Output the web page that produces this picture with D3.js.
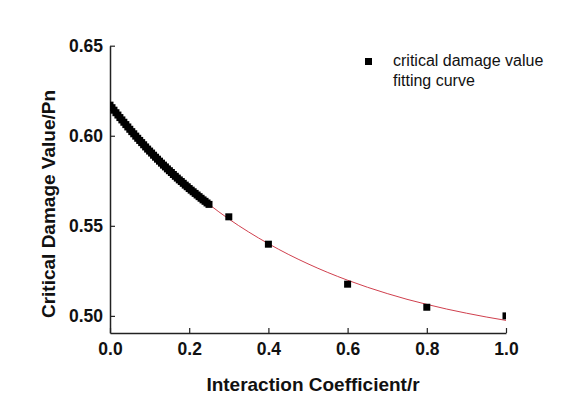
<!DOCTYPE html>
<html>
<head>
<meta charset="utf-8">
<script src="https://cdn.jsdelivr.net/npm/d3@7"></script>
<style>
  body { margin: 0; background: #fff; }
  svg { display: block; font-family: "Liberation Sans", Arial, sans-serif; }
</style>
</head>
<body>
<div id="main"></div>
<script>
// measured points (dense run 0..0.25 plus sparse points)
const damageX = [0.000, 0.005, 0.010, 0.015, 0.020, 0.025, 0.030, 0.035, 0.040, 0.045,
  0.050, 0.055, 0.060, 0.065, 0.070, 0.075, 0.080, 0.085, 0.090, 0.095,
  0.100, 0.105, 0.110, 0.115, 0.120, 0.125, 0.130, 0.135, 0.140, 0.145,
  0.150, 0.155, 0.160, 0.165, 0.170, 0.175, 0.180, 0.185, 0.190, 0.195,
  0.200, 0.205, 0.210, 0.215, 0.220, 0.225, 0.230, 0.235, 0.240, 0.245,
  0.250, 0.30, 0.40, 0.60, 0.80, 1.00];
const damageY = [0.6170, 0.6156, 0.6142, 0.6128, 0.6115, 0.6101, 0.6088, 0.6075, 0.6062, 0.6049,
  0.6036, 0.6023, 0.6011, 0.5998, 0.5986, 0.5974, 0.5962, 0.5950, 0.5938, 0.5926,
  0.5915, 0.5904, 0.5892, 0.5881, 0.5870, 0.5859, 0.5848, 0.5837, 0.5827, 0.5816,
  0.5806, 0.5796, 0.5785, 0.5775, 0.5765, 0.5755, 0.5746, 0.5736, 0.5726, 0.5717,
  0.5707, 0.5698, 0.5689, 0.5680, 0.5671, 0.5662, 0.5653, 0.5644, 0.5636, 0.5627,
  0.5619, 0.5550, 0.5398, 0.5176, 0.5048, 0.5000];

// fitting curve
const fitX = [0.00, 0.05, 0.10, 0.15, 0.20, 0.25, 0.30, 0.35, 0.40, 0.45, 0.50,
  0.55, 0.60, 0.65, 0.70, 0.75, 0.80, 0.85, 0.90, 0.95, 1.00];
const fitY = [0.6170, 0.6036, 0.5915, 0.5806, 0.5707, 0.5619, 0.5538, 0.5466, 0.5401, 0.5342, 0.5289,
  0.5241, 0.5198, 0.5159, 0.5124, 0.5092, 0.5064, 0.5038, 0.5015, 0.4994, 0.4975];

const xTicks = [0.0, 0.2, 0.4, 0.6, 0.8, 1.0];
const yTicks = [0.50, 0.55, 0.60, 0.65];
const legendLabels = ['critical damage value', 'fitting curve'];

const width = 581;
const height = 394;

const svg = d3.select('#main').append('svg')
  .attr('width', width)
  .attr('height', height);

svg.append('rect').attr('width', width).attr('height', height).attr('fill', '#fff');

const x = d3.scaleLinear().domain([0, 1]).range([110, 506]);
const y = d3.scaleLinear().domain([0.4905, 0.65]).range([333, 45.7]);

svg.append('defs').append('clipPath').attr('id', 'plot')
  .append('rect')
  .attr('x', x(0)).attr('y', y(0.65))
  .attr('width', x(1) - x(0)).attr('height', y(0.4905) - y(0.65));

// axes
const xAxis = svg.append('g')
  .attr('transform', `translate(0, ${y(0.4905)})`)
  .call(d3.axisBottom(x).tickValues(xTicks).tickFormat(d3.format('.1f')).tickSizeInner(-5).tickSizeOuter(0).tickPadding(10));
const yAxis = svg.append('g')
  .attr('transform', `translate(${x(0)}, 0)`)
  .call(d3.axisLeft(y).tickValues(yTicks).tickFormat(d3.format('.2f')).tickSizeInner(-5).tickSizeOuter(0).tickPadding(7));

[xAxis, yAxis].forEach(g => {
  g.select('.domain').attr('stroke', '#222').attr('stroke-width', 1.5);
  g.selectAll('.tick line').attr('stroke', '#222').attr('stroke-width', 1.2);
  g.selectAll('.tick text')
    .attr('fill', '#111')
    .style('font-size', '17.5px')
    .style('font-weight', 'bold');
});

svg.append('text')
  .attr('x', 313).attr('y', 391)
  .attr('text-anchor', 'middle')
  .style('font-size', '19px').style('font-weight', 'bold')
  .attr('fill', '#111')
  .text('Interaction Coefficient/r');

svg.append('text')
  .attr('transform', 'translate(55, 204) rotate(-90)')
  .attr('text-anchor', 'middle')
  .style('font-size', '19px').style('font-weight', 'bold')
  .attr('fill', '#111')
  .text('Critical Damage Value/Pn');

// data
const plot = svg.append('g').attr('clip-path', 'url(#plot)');

const pts = damageX.map((d, i) => ({ x: d, y: damageY[i] }));
const fit = fitX.map((d, i) => ({ x: d, y: fitY[i] }));

const lineGenerator = d3.line()
  .x(d => x(d.x))
  .y(d => y(d.y))
  .curve(d3.curveMonotoneX);

plot.append('path')
  .datum(fit)
  .attr('fill', 'none')
  .attr('stroke', '#d0404e')
  .attr('stroke-width', 1)
  .attr('d', lineGenerator);

const ms = 7;
plot.selectAll('rect.pt')
  .data(pts)
  .enter()
  .append('rect')
  .attr('class', 'pt')
  .attr('x', d => x(d.x) - ms / 2)
  .attr('y', d => y(d.y) - ms / 2)
  .attr('width', ms)
  .attr('height', ms)
  .attr('fill', '#000');

// legend
const legend = svg.append('g');
legend.append('rect')
  .attr('x', 365).attr('y', 58)
  .attr('width', 7).attr('height', 7)
  .attr('fill', '#000');
legend.selectAll('text')
  .data(legendLabels)
  .enter()
  .append('text')
  .attr('x', 393)
  .attr('y', (d, i) => 66 + i * 20)
  .style('font-size', '16px')
  .attr('fill', '#111')
  .text(d => d);
</script>
</body>
</html>
